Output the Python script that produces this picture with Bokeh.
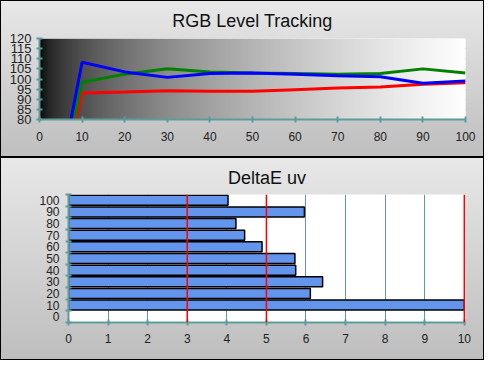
import numpy as np
from bokeh.plotting import figure
from bokeh.layouts import column, row
from bokeh.models import FixedTicker, Span, Range1d
from bokeh.embed import file_html
from bokeh.resources import INLINE

# ---- data ----
levels = [0, 10, 20, 30, 40, 50, 60, 70, 80, 90, 100]
red = [0, 93.1, 93.6, 94.2, 93.9, 93.9, 94.7, 95.5, 96.0, 97.4, 98.2]
green = [0, 98.4, 102.4, 105.1, 103.5, 103.0, 102.7, 102.4, 102.7, 105.0, 103.0]
blue = [0, 108.3, 103.5, 100.8, 102.7, 103.0, 102.4, 101.6, 101.1, 97.9, 99.0]

de_levels = [10, 20, 30, 40, 50, 60, 70, 80, 90, 100]
de_values = [10.0, 6.11, 6.42, 5.74, 5.72, 4.89, 4.45, 4.23, 5.96, 4.03]
de_ticks = [0, 10, 20, 30, 40, 50, 60, 70, 80, 90, 100]

TEAL = "#5f9b9b"
FONT = "Liberation Sans"
PANEL_STYLE = {"background": "linear-gradient(#e8e8e8, #bebebe)",
               "box-shadow": "inset 0 0 0 1px #000"}


def style_axes(p):
    for ax in (p.xaxis, p.yaxis):
        ax.axis_line_color = TEAL
        ax.axis_line_width = 2
        ax.major_tick_line_color = TEAL
        ax.major_tick_line_width = 2
        ax.major_tick_in = 3
        ax.major_tick_out = 3
        ax.minor_tick_line_color = None
        ax.major_label_text_font = FONT
        ax.major_label_text_font_size = "12px"
        ax.major_label_text_color = "#222222"
    p.title.align = "center"
    p.title.text_font = FONT
    p.title.text_font_size = "18px"
    p.title.text_font_style = "normal"
    p.title.text_color = "#111111"
    p.outline_line_color = None
    p.border_fill_color = None
    p.styles = PANEL_STYLE


# ---- top chart ----
p1 = figure(width=484, height=157, x_range=Range1d(0, 100), y_range=Range1d(80, 120),
            output_backend="svg", toolbar_location=None, title="RGB Level Tracking",
            min_border_left=39, min_border_right=19, min_border_top=38, min_border_bottom=38)
style_axes(p1)

g = (np.linspace(0, 1, 256) ** 0.5 * 255).astype(np.uint8)
img = np.zeros((2, 256), dtype=np.uint32)
view = img.view(dtype=np.uint8).reshape((2, 256, 4))
view[:, :, 0] = g
view[:, :, 1] = g
view[:, :, 2] = g
view[:, :, 3] = 255
p1.image_rgba(image=[img], x=0, y=80, dw=100, dh=40)

p1.xgrid.visible = False
p1.ygrid.ticker = FixedTicker(ticks=list(range(85, 121, 5)))
p1.ygrid.grid_line_color = TEAL
p1.ygrid.grid_line_width = 1
p1.xaxis.ticker = FixedTicker(ticks=list(range(0, 101, 10)))
p1.xaxis.major_label_standoff = 9
p1.yaxis.ticker = FixedTicker(ticks=list(range(80, 121, 5)))
p1.yaxis.major_label_text_font_size = "13px"
p1.title.standoff = 15

p1.line(levels, red, color="#ff0000", line_width=3)
p1.line(levels, green, color="#008000", line_width=3)
p1.line(levels, blue, color="#0000ff", line_width=3)

# ---- bottom chart ----
p2 = figure(width=484, height=203, x_range=Range1d(0, 10.03), y_range=Range1d(-5, 105),
            output_backend="svg", toolbar_location=None, title="DeltaE uv",
            min_border_left=68, min_border_right=19, min_border_top=37, min_border_bottom=38)
style_axes(p2)
p2.background_fill_color = "white"
p2.ygrid.visible = False
p2.xgrid.ticker = FixedTicker(ticks=[1, 2, 4, 6, 7, 8, 9])
p2.xgrid.grid_line_color = TEAL
p2.xgrid.grid_line_width = 1
p2.xaxis.ticker = FixedTicker(ticks=list(range(0, 11)))
p2.xaxis.major_label_standoff = 8
p2.yaxis.ticker = FixedTicker(ticks=de_ticks, minor_ticks=[t - 5 for t in de_ticks] + [105])
p2.yaxis.major_label_overrides = {t: str(t) for t in de_ticks}
p2.yaxis.major_tick_line_color = None
p2.yaxis.minor_tick_line_color = TEAL
p2.yaxis.minor_tick_line_width = 2
p2.yaxis.minor_tick_in = 3
p2.yaxis.minor_tick_out = 3
p2.yaxis.major_label_standoff = 6
p2.title.standoff = 14

p2.hbar(y=de_levels, right=de_values, left=0, height=8.6,
        fill_color="#6495ED", line_color="black", line_width=1.5)
for xv in (3, 5, 10):
    p2.add_layout(Span(location=xv, dimension="height", line_color="#ff0000", line_width=1.5))

layout = column(row(p1), row(p2), spacing=0)
open("out.html", "w").write(file_html(layout, INLINE))
